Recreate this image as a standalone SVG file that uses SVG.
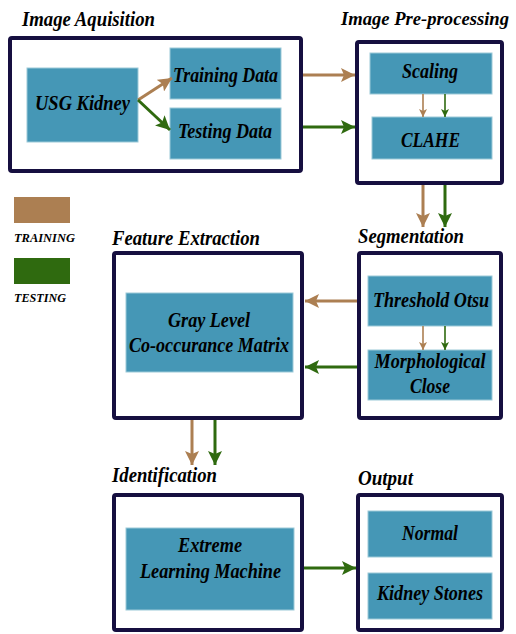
<svg xmlns="http://www.w3.org/2000/svg" width="516" height="634" viewBox="0 0 516 634">
<style>
text{font-family:'Liberation Serif',serif;font-weight:bold;font-style:italic;fill:#000}
.title{font-size:20px}
.lbl{font-size:22px;text-anchor:middle}
.leg{font-size:13px}
.stage{fill:#fff;stroke:#160f40;stroke-width:4}
.proc{fill:#4597b6;stroke:#9cc9d8;stroke-width:1}
.br{stroke:#ac7f52;fill:none}
.gr{stroke:#2f6a0f;fill:none}
.big{stroke-width:3}
.sm{stroke-width:1.6}
</style>
<defs>
<marker id="hbB" markerUnits="userSpaceOnUse" markerWidth="15" markerHeight="14" refX="14" refY="7" orient="auto"><path d="M0,0 L14,7 L0,14 L3,7 z" fill="#ac7f52"/></marker>
<marker id="hgB" markerUnits="userSpaceOnUse" markerWidth="15" markerHeight="14" refX="14" refY="7" orient="auto"><path d="M0,0 L14,7 L0,14 L3,7 z" fill="#2f6a0f"/></marker>
<marker id="hbS" markerUnits="userSpaceOnUse" markerWidth="9" markerHeight="8" refX="8" refY="4" orient="auto"><path d="M0,0 L8,4 L0,8 L2,4 z" fill="#ac7f52"/></marker>
<marker id="hgS" markerUnits="userSpaceOnUse" markerWidth="9" markerHeight="8" refX="8" refY="4" orient="auto"><path d="M0,0 L8,4 L0,8 L2,4 z" fill="#2f6a0f"/></marker>
</defs>
<rect width="516" height="634" fill="#fff"/>
<g font-family="Liberation Serif" font-weight="bold" font-style="italic">

<g id="legend">
<rect x="14" y="197" width="56" height="26" fill="#ac7f52"/>
<text class="leg" x="14" y="242" textLength="61" lengthAdjust="spacingAndGlyphs">TRAINING</text>
<rect x="14" y="258" width="56" height="26" fill="#2f6a0f"/>
<text class="leg" x="14" y="302" textLength="52" lengthAdjust="spacingAndGlyphs">TESTING</text>
</g>

<g id="image-aquisition">
<text class="title" x="22" y="26" textLength="133" lengthAdjust="spacingAndGlyphs">Image Aquisition</text>
<rect class="stage" x="10" y="38" width="291" height="133" rx="2"/>
<g id="usg-kidney"><rect class="proc" x="27" y="68" width="111" height="74"/><text class="lbl" x="82.5" y="110" textLength="95" lengthAdjust="spacingAndGlyphs">USG Kidney</text></g>
<g id="training-data"><rect class="proc" x="170" y="48" width="111" height="51"/><text class="lbl" x="225.5" y="82" textLength="105" lengthAdjust="spacingAndGlyphs">Training Data</text></g>
<g id="testing-data"><rect class="proc" x="170" y="108" width="111" height="51"/><text class="lbl" x="225" y="138" textLength="94" lengthAdjust="spacingAndGlyphs">Testing Data</text></g>
</g>

<g id="image-pre-processing">
<text class="title" x="341" y="25" style="font-size:19px" textLength="168" lengthAdjust="spacingAndGlyphs">Image Pre-processing</text>
<rect class="stage" x="357" y="42" width="145" height="141" rx="2"/>
<g id="scaling"><rect class="proc" x="370" y="53" width="122" height="41"/><text class="lbl" x="430" y="78" textLength="56" lengthAdjust="spacingAndGlyphs">Scaling</text></g>
<g id="clahe"><rect class="proc" x="372" y="117" width="120" height="42"/><text class="lbl" x="430.5" y="147" textLength="59" lengthAdjust="spacingAndGlyphs">CLAHE</text></g>
</g>

<g id="segmentation">
<text class="title" x="358" y="243" textLength="106" lengthAdjust="spacingAndGlyphs">Segmentation</text>
<rect class="stage" x="359" y="253" width="142" height="165" rx="2"/>
<g id="threshold-otsu"><rect class="proc" x="368" y="276" width="124" height="50"/><text class="lbl" x="431" y="307" textLength="116" lengthAdjust="spacingAndGlyphs">Threshold Otsu</text></g>
<g id="morphological-close"><rect class="proc" x="368" y="350" width="124" height="50"/><text class="lbl" x="430" y="368" textLength="111" lengthAdjust="spacingAndGlyphs">Morphological</text><text class="lbl" x="430" y="393" textLength="40" lengthAdjust="spacingAndGlyphs">Close</text></g>
</g>

<g id="feature-extraction">
<text class="title" x="112" y="245" textLength="148" lengthAdjust="spacingAndGlyphs">Feature Extraction</text>
<rect class="stage" x="114" y="253" width="188" height="165" rx="2"/>
<g id="glcm"><rect class="proc" x="126" y="293" width="167" height="79"/><text class="lbl" x="209" y="327" textLength="82" lengthAdjust="spacingAndGlyphs">Gray Level</text><text class="lbl" x="209" y="352" textLength="160" lengthAdjust="spacingAndGlyphs">Co-occurance Matrix</text></g>
</g>

<g id="identification">
<text class="title" x="112" y="482" textLength="105" lengthAdjust="spacingAndGlyphs">Identification</text>
<rect class="stage" x="114" y="495" width="188" height="135" rx="2"/>
<g id="elm"><rect class="proc" x="126" y="528" width="168" height="82"/><text class="lbl" x="210" y="552" textLength="64" lengthAdjust="spacingAndGlyphs">Extreme</text><text class="lbl" x="210.5" y="578" textLength="141" lengthAdjust="spacingAndGlyphs">Learning Machine</text></g>
</g>

<g id="output">
<text class="title" x="358" y="485" textLength="55" lengthAdjust="spacingAndGlyphs">Output</text>
<rect class="stage" x="358" y="495" width="144" height="135" rx="2"/>
<g id="normal"><rect class="proc" x="368" y="511" width="124" height="46"/><text class="lbl" x="430" y="540" textLength="56" lengthAdjust="spacingAndGlyphs">Normal</text></g>
<g id="kidney-stones"><rect class="proc" x="368" y="573" width="124" height="46"/><text class="lbl" x="430" y="600" textLength="106" lengthAdjust="spacingAndGlyphs">Kidney Stones</text></g>
</g>
</g>

<g id="connectors">
<path class="br big" d="M138,100 L172,78" marker-end="url(#hbB)"/>
<path class="gr big" d="M138,100 L170,130" marker-end="url(#hgB)"/>
<path class="br big" d="M303,75 L355,75" marker-end="url(#hbB)"/>
<path class="gr big" d="M303,127 L355,127" marker-end="url(#hgB)"/>
<path class="br sm" d="M423,94 L423,117" marker-end="url(#hbS)"/>
<path class="gr sm" d="M445,94 L445,117" marker-end="url(#hgS)"/>
<path class="br big" d="M423,185 L423,227" marker-end="url(#hbB)"/>
<path class="gr big" d="M445,185 L445,227" marker-end="url(#hgB)"/>
<path class="br sm" d="M423,326 L423,350" marker-end="url(#hbS)"/>
<path class="gr sm" d="M445,326 L445,350" marker-end="url(#hgS)"/>
<path class="br big" d="M357,301 L305,301" marker-end="url(#hbB)"/>
<path class="gr big" d="M357,367 L305,367" marker-end="url(#hgB)"/>
<path class="br big" d="M192,420 L192,465" marker-end="url(#hbB)"/>
<path class="gr big" d="M215,420 L215,465" marker-end="url(#hgB)"/>
<path class="gr big" d="M304,568 L356,568" marker-end="url(#hgB)"/>
</g>
</svg>
